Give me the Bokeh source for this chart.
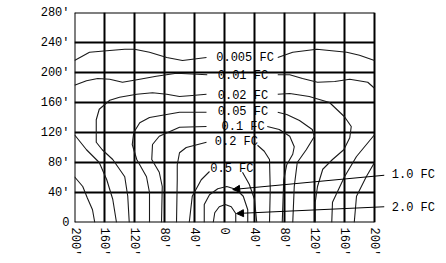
from bokeh.plotting import figure
from bokeh.models import FixedTicker, Range1d, Arrow, NormalHead, ColumnDataSource
from bokeh.embed import file_html
from bokeh.resources import INLINE
from bokeh.core.properties import value

FONT = "Liberation Mono"

# ---- axes ----
x_ticks = [-200, -160, -120, -80, -40, 0, 40, 80, 120, 160, 200]
x_tick_labels = ["200′", "160′", "120′", "80′", "40′", "0", "40′", "80′", "120′", "160′", "200′"]
y_ticks = [0, 40, 80, 120, 160, 200, 240, 280]
y_tick_labels = ["0", "40′", "80′", "120′", "160′", "200′", "240′", "280′"]

# ---- isofootcandle contour segments (feet) ----
fc0005_l_x = [-200, -180, -157, -133, -120, -100, -77, -56, -24]
fc0005_l_y = [216, 227, 229, 231, 231, 227, 220, 216, 220]
fc0005_r_x = [71, 91, 123, 163, 180, 200]
fc0005_r_y = [220, 227, 231, 227, 223, 216]

fc001_l_x = [-200, -184, -169, -153, -136, -113, -91, -64, -23]
fc001_l_y = [183, 189, 192, 191, 187, 191, 195, 199, 197]
fc001_r_x = [71, 87, 104, 124, 147, 167, 191, 200]
fc001_r_y = [197, 197, 192, 187, 188, 191, 187, 179]

fc002_l_x = [-24, -47, -60, -77, -96, -117, -140, -153, -167, -171, -171, -163, -149, -133, -129, -127]
fc002_l_y = [171, 169, 168, 171, 173, 171, 167, 163, 151, 137, 107, 97, 84, 61, 35, 0]
fc002_r_x = [71, 87, 113, 140, 160, 169, 167, 159, 144, 131, 124, 121, 121]
fc002_r_y = [171, 172, 168, 160, 141, 128, 113, 97, 84, 71, 48, 27, 0]

fc005_l_x = [-24, -60, -100, -113, -121, -123, -117, -104, -100, -100]
fc005_l_y = [147, 147, 140, 133, 120, 104, 84, 61, 40, 0]
fc005_r_x = [71, 83, 100, 117, 120, 109, 97, 93, 91]
fc005_r_y = [147, 144, 136, 124, 115, 97, 80, 48, 0]

fc01_l_x = [-24, -60, -87, -96, -97, -87, -83, -84]
fc01_l_y = [128, 127, 115, 104, 84, 67, 48, 0]
fc01_r_x = [57, 73, 87, 93, 91, 83, 79, 77]
fc01_r_y = [128, 124, 115, 101, 91, 77, 57, 0]

fc02_l_x = [-24, -51, -60, -63, -63, -64]
fc02_l_y = [107, 100, 93, 77, 57, 0]
fc02_r_x = [44, 53, 60, 61, 60]
fc02_r_y = [103, 95, 84, 44, 0]

fc05_l_x = [-20, -31, -43, -47]
fc05_l_y = [68, 57, 35, 0]
fc05_r_x = [24, 33, 40, 43]
fc05_r_y = [67, 51, 31, 0]

fc10_x = [-27, -27, -20, -9, 3, 16, 25, 31, 31]
fc10_y = [0, 24, 37, 45, 48, 44, 35, 17, 0]

fc20_x = [-15, -13, -7, 1, 9, 15, 15]
fc20_y = [0, 13, 21, 24, 21, 12, 0]

outer_a_l_x = [-200, -184, -167, -157, -149, -144]
outer_a_l_y = [117, 97, 80, 57, 31, 0]
outer_b_l_x = [-200, -189, -183, -176, -173]
outer_b_l_y = [61, 48, 33, 17, 0]
outer_a_r_x = [200, 176, 160, 144, 143]
outer_a_r_y = [117, 88, 61, 27, 0]
outer_b_r_x = [200, 189, 176, 173]
outer_b_r_y = [80, 61, 35, 0]

# ---- in-plot labels ----
label_text = ["0.005 FC", "0.01 FC", "0.02 FC", "0.05 FC", "0.1 FC", "0.2 FC", "0.5 FC"]
label_x = [-11, -9, -9, -9, -4, -13, -19]
label_y = [220, 195, 169, 147, 128, 107, 71]

callout_text = ["1.0 FC", "2.0 FC"]
callout_x = [223, 223]
callout_y = [63, 20]
arrow_start_x = [213, 213]
arrow_start_y = [63, 21]
arrow_end_x = [11, 16]
arrow_end_y = [44, 12]

p = figure(width=445, height=262, x_range=Range1d(-200, 282.67), y_range=Range1d(0, 280),
           output_backend="svg", toolbar_location=None,
           min_border_left=74, min_border_right=9, min_border_top=12, min_border_bottom=40)

p.outline_line_color = None
p.background_fill_color = "white"
p.border_fill_color = "white"
p.xgrid.visible = False
p.ygrid.visible = False

for ax in (p.xaxis[0], p.yaxis[0]):
    ax.axis_line_color = None
    ax.major_tick_line_color = None
    ax.minor_tick_line_color = None
    ax.major_tick_out = 0
    ax.major_tick_in = 0
    ax.minor_tick_out = 0
    ax.minor_tick_in = 0
    ax.major_label_text_font = FONT
    ax.major_label_text_font_size = "12px"
    ax.major_label_text_color = "black"

p.xaxis[0].ticker = FixedTicker(ticks=x_ticks)
p.xaxis[0].major_label_overrides = {t: l for t, l in zip(x_ticks, x_tick_labels)}
p.xaxis[0].major_label_orientation = "vertical"
p.xaxis[0].major_label_standoff = 5
p.yaxis[0].ticker = FixedTicker(ticks=y_ticks)
p.yaxis[0].major_label_overrides = {t: l for t, l in zip(y_ticks, y_tick_labels)}
p.yaxis[0].major_label_standoff = 5

# grid + frame drawn from the tick lists
x_lo, x_hi = x_ticks[0], x_ticks[-1]
y_lo, y_hi = y_ticks[0], y_ticks[-1]
p.segment(x0=x_ticks, y0=[y_lo] * len(x_ticks), x1=x_ticks, y1=[y_hi] * len(x_ticks),
          line_color="black", line_width=2)
p.segment(x0=[x_lo] * len(y_ticks), y0=y_ticks, x1=[x_hi] * len(y_ticks), y1=y_ticks,
          line_color="black", line_width=2)

segs_x = [fc0005_l_x, fc0005_r_x, fc001_l_x, fc001_r_x, fc002_l_x, fc002_r_x,
          fc005_l_x, fc005_r_x, fc01_l_x, fc01_r_x, fc02_l_x, fc02_r_x,
          fc05_l_x, fc05_r_x, fc10_x, fc20_x, outer_a_l_x, outer_b_l_x, outer_a_r_x, outer_b_r_x]
segs_y = [fc0005_l_y, fc0005_r_y, fc001_l_y, fc001_r_y, fc002_l_y, fc002_r_y,
          fc005_l_y, fc005_r_y, fc01_l_y, fc01_r_y, fc02_l_y, fc02_r_y,
          fc05_l_y, fc05_r_y, fc10_y, fc20_y, outer_a_l_y, outer_b_l_y, outer_a_r_y, outer_b_r_y]
p.multi_line(xs=segs_x, ys=segs_y, line_color="#1a1a1a", line_width=1.1, line_join="round")

src = ColumnDataSource(dict(x=label_x, y=label_y, t=label_text))
p.text(x="x", y="y", text="t", source=src, text_font=value(FONT), text_font_size="12px",
       text_baseline="middle", text_align="left", text_color="black")

src2 = ColumnDataSource(dict(x=callout_x, y=callout_y, t=callout_text))
p.text(x="x", y="y", text="t", source=src2, text_font=value(FONT), text_font_size="12px",
       text_baseline="middle", text_align="left", text_color="black")

for xs, ys, xe, ye in zip(arrow_start_x, arrow_start_y, arrow_end_x, arrow_end_y):
    p.add_layout(Arrow(end=NormalHead(size=7, fill_color="black", line_color="black"),
                       x_start=xs, y_start=ys, x_end=xe, y_end=ye,
                       line_color="black", line_width=1))

open("out.html", "w").write(file_html(p, INLINE))
